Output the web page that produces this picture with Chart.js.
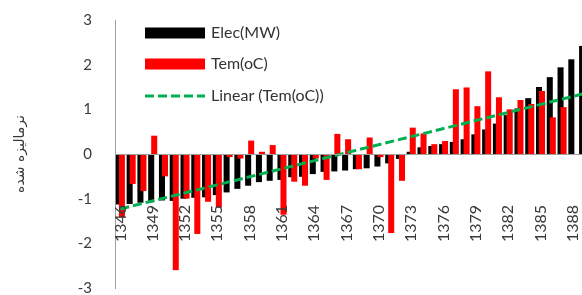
<!DOCTYPE html>
<html lang="fa">
<head>
<meta charset="UTF-8">
<title>Elec vs Tem</title>
<script src="https://cdn.jsdelivr.net/npm/chart.js"></script>
<style>
  html, body { margin: 0; padding: 0; background: #fff; overflow: hidden; }
  .wrap { width: 590px; height: 295px; }
</style>
</head>
<body>
<div class="wrap"><canvas id="chart" width="590" height="295"></canvas></div>
<script>
const years = ['1346','1347','1348','1349','1350','1351','1352','1353','1354','1355',
  '1356','1357','1358','1359','1360','1361','1362','1363','1364','1365',
  '1366','1367','1368','1369','1370','1371','1372','1373','1374','1375',
  '1376','1377','1378','1379','1380','1381','1382','1383','1384','1385',
  '1386','1387','1388','1389'];
const shownYears = ['1346','1349','1352','1355','1358','1361','1364','1367','1370','1373','1376','1379','1382','1385','1388'];

const elec = [-1.13, -1.12, -1.09, -1.08, -1.04, -1.05, -1.00, -0.98, -0.97, -0.92,
  -0.86, -0.78, -0.71, -0.63, -0.60, -0.58, -0.52, -0.51, -0.45, -0.40,
  -0.39, -0.37, -0.34, -0.32, -0.28, -0.21, -0.11, 0.05, 0.15, 0.18,
  0.22, 0.27, 0.33, 0.44, 0.55, 0.68, 0.87, 1.02, 1.25, 1.50,
  1.72, 1.94, 2.12, 2.42];
const tem = [-1.42, -0.67, -0.83, 0.41, -0.50, -2.60, -1.00, -1.79, -1.07, -1.20,
  -0.07, -0.10, 0.30, 0.05, 0.20, -1.36, -0.62, -0.71, -0.10, -0.58,
  0.45, 0.33, -0.34, 0.37, -0.07, -1.77, -0.60, 0.59, 0.46, 0.22,
  0.29, 1.45, 1.49, 1.07, 1.85, 1.27, 1.00, 1.21, 1.12, 1.41,
  0.82, 1.05, null, null];

// trend line end points
const trendYears = ['1346', '1389'];
const trendValues = [-1.23, 1.35];

const yTicks = { min: -3, max: 3, step: 1 };

// red bars sit on top of the black ones, like the original
const temOnTop = {
  id: 'temOnTop',
  beforeDatasetDraw(chart, args) {
    if (args.index === 1) return false;
  },
  afterDatasetDraw(chart, args) {
    if (args.index === 0) chart.getDatasetMeta(1).controller.draw();
  }
};

const legendBox = {
  id: 'legendBox',
  afterDraw(chart) {
    const ctx = chart.ctx;
    const rows = [33, 64, 96];
    ctx.save();
    ctx.font = '16px Lato';
    ctx.textBaseline = 'middle';
    chart.data.datasets.forEach((ds, i) => {
      const y = rows[i];
      if (ds.type === 'line') {
        ctx.strokeStyle = ds.borderColor;
        ctx.lineWidth = 3;
        ctx.setLineDash([9, 4]);
        ctx.beginPath();
        ctx.moveTo(145, y);
        ctx.lineTo(205, y);
        ctx.stroke();
        ctx.setLineDash([]);
      } else {
        ctx.fillStyle = ds.backgroundColor;
        ctx.fillRect(145, y - 5.5, 60, 11);
      }
      ctx.fillStyle = '#333';
      ctx.fillText(ds.label, 211, y);
    });
    ctx.restore();
  }
};

new Chart(document.getElementById('chart'), {
  type: 'bar',
  data: {
    labels: years,
    datasets: [
      {
        label: 'Elec(MW)',
        data: elec,
        backgroundColor: '#000000',
        categoryPercentage: 0.56,
        barPercentage: 2.0
      },
      {
        label: 'Tem(oC)',
        data: tem,
        backgroundColor: '#FF0000',
        categoryPercentage: 0.56,
        barPercentage: 2.0
      },
      {
        type: 'line',
        label: 'Linear (Tem(oC))',
        data: trendYears.map((x, i) => ({ x: x, y: trendValues[i] })),
        borderColor: '#00B050',
        borderWidth: 3,
        borderDash: [9, 4],
        pointRadius: 0,
        fill: false,
        order: -1
      }
    ]
  },
  options: {
    responsive: false,
    animation: false,
    devicePixelRatio: 1,
    layout: { padding: { top: 20, right: 1, bottom: 7, left: 0 } },
    plugins: {
      legend: { display: false },
      tooltip: { enabled: false }
    },
    scales: {
      x: {
        position: { y: 0 },
        grid: { display: false, drawTicks: false },
        border: { display: true, color: '#a0a0a0', width: 1, z: 1 },
        ticks: {
          autoSkip: false,
          minRotation: 90,
          maxRotation: 90,
          padding: 51,
          z: 1,
          color: '#3a3a3a',
          font: { family: 'Lato', size: 16 },
          callback: function (value) {
            const lab = this.getLabelForValue(value);
            return shownYears.includes(lab) ? lab : '';
          }
        },
        afterFit(scale) {
          scale.paddingLeft = 0;
          scale.paddingRight = 0;
        }
      },
      y: {
        min: yTicks.min,
        max: yTicks.max,
        grid: { display: false, drawTicks: false },
        border: { display: true, color: '#a0a0a0', width: 1 },
        ticks: {
          stepSize: yTicks.step,
          padding: 23,
          color: '#3a3a3a',
          font: { family: 'Lato', size: 15 }
        },
        title: {
          display: true,
          text: 'نرمالیزه شده',
          color: '#3a3a3a',
          font: { family: 'DejaVu Sans', size: 14 },
          padding: { top: 12, bottom: 0 }
        },
        afterFit(scale) {
          scale.width = 115;
          scale.paddingTop = 0;
          scale.paddingBottom = 0;
        }
      }
    }
  },
  plugins: [temOnTop, legendBox]
});
</script>
</body>
</html>
